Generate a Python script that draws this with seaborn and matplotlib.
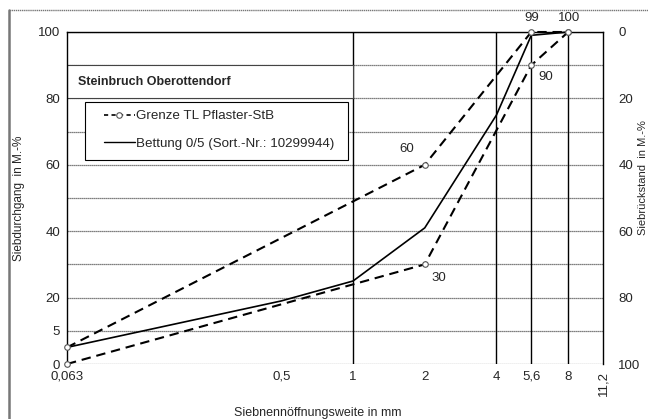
import matplotlib
matplotlib.use('Agg')
import matplotlib.pyplot as plt
from matplotlib.lines import Line2D
from matplotlib.patches import Rectangle
import seaborn as sns
import pandas as pd

# sieve sizes in mm and passing in M.-%
sieves = [0.063, 0.5, 1, 2, 4, 5.6, 8]
bettung = [5, 19, 25, 41, 75, 99, 100]
upper_sieves = [0.063, 2, 5.6, 8]
upper_limit = [5, 60, 100, 100]
lower_sieves = [0.063, 2, 5.6, 8]
lower_limit = [0, 30, 90, 100]

x_ticks = [0.063, 0.5, 1, 2, 4, 5.6, 8, 11.2]
x_labels = ['0,063', '0,5', '1', '2', '4', '5,6', '8', '11,2']
y_ticks = [0, 10, 20, 40, 60, 80, 100]
y_labels = ['0', '5', '20', '40', '60', '80', '100']
y2_ticks = [0, 20, 40, 60, 80, 100]
vlines = [1, 4, 5.6, 8]

df_bet = pd.DataFrame({'mm': sieves, 'pct': bettung})
df_up = pd.DataFrame({'mm': upper_sieves, 'pct': upper_limit})
df_lo = pd.DataFrame({'mm': lower_sieves, 'pct': lower_limit})


def create_sieve_curve():
	sns.set_style('white')
	plt.rcParams['font.family'] = ['Liberation Sans', 'DejaVu Sans']
	fig = plt.figure(figsize=(6.48, 4.19), dpi=100)
	ax = fig.add_axes([67 / 648, 1 - 364 / 419, 536 / 648, 332 / 419])
	ax.set_xscale('log')

	# horizontal grid every 10 %
	for y in range(0, 101, 10):
		ax.axhline(y, color='#555555', lw=0.9, ls=(0, (1, 0.6)), zorder=1)
	for x in vlines:
		ax.axvline(x, color='black', lw=1.0, zorder=1)

	dash = (0, (4.5, 2.8))
	for d in (df_up, df_lo):
		sns.lineplot(data=d, x='mm', y='pct', ax=ax, color='black', lw=1.5,
			linestyle=dash, marker='o', markersize=4, markerfacecolor='white',
			markeredgecolor='#555555', markeredgewidth=0.8, zorder=4, clip_on=False)
	sns.lineplot(data=df_bet, x='mm', y='pct', ax=ax, color='black', lw=1.2, zorder=3, clip_on=False)

	ax.set_xlim(0.063, 11.2)
	ax.set_ylim(0, 100)
	ax.set_xticks(x_ticks)
	ax.set_xticklabels(x_labels, fontsize=9.5)
	ax.xaxis.set_minor_locator(matplotlib.ticker.NullLocator())
	ax.get_xticklabels()[-1].set_rotation(90)
	ax.set_yticks(y_ticks)
	ax.set_yticklabels(y_labels, fontsize=9.5)
	ax.tick_params(length=0, pad=5)
	ax.set_xlabel('')
	ax.set_ylabel('Siebdurchgang  in M.-%', fontsize=8.5, labelpad=9)

	for side in ['left', 'right', 'top']:
		ax.spines[side].set_color('black')
		ax.spines[side].set_linewidth(1.0)
	ax.spines['bottom'].set_visible(False)

	ax2 = ax.twinx()
	ax2.set_ylim(100, 0)
	ax2.set_yticks(y2_ticks)
	ax2.set_yticklabels([str(v) for v in y2_ticks], fontsize=9.5)
	ax2.tick_params(length=0, pad=11)
	for s in ax2.spines.values():
		s.set_visible(False)

	# value labels on limit curves
	ax.annotate(str(upper_limit[1]), (upper_sieves[1], upper_limit[1]), xytext=(-18, 16),
		textcoords='offset pixels', ha='center', va='center', fontsize=9.5)
	ax.annotate(str(lower_limit[1]), (lower_sieves[1], lower_limit[1]), xytext=(14, -14),
		textcoords='offset pixels', ha='center', va='center', fontsize=9.5)
	ax.annotate(str(lower_limit[2]), (lower_sieves[2], lower_limit[2]), xytext=(14, -12),
		textcoords='offset pixels', ha='center', va='center', fontsize=9.5)
	ax.annotate(str(bettung[5]), (sieves[5], 100), xytext=(0, 14),
		textcoords='offset pixels', ha='center', va='center', fontsize=9.5)
	ax.annotate(str(bettung[6]), (sieves[6], 100), xytext=(1, 14),
		textcoords='offset pixels', ha='center', va='center', fontsize=9.5, annotation_clip=False)

	# title box
	ax.add_patch(Rectangle((0.063, 80), 1 - 0.063, 10, facecolor='white',
		edgecolor='#444444', lw=0.8, zorder=2))
	ax.text(0.02, 85, 'Steinbruch Oberottendorf', transform=ax.get_yaxis_transform(),
		fontsize=9, fontweight='bold', va='center', ha='left', zorder=3)

	# legend frame drawn by hand so the padding matches the original
	ax.add_patch(Rectangle((18 / 536, (364 - 160) / 332), (348 - 85) / 536, 58 / 332,
		transform=ax.transAxes, facecolor='white', edgecolor='black', lw=0.8, zorder=5))
	handles = [
		Line2D([], [], color='black', lw=1.2, linestyle=(0, (2.5, 2)), marker='o', markersize=4,
			markerfacecolor='white', markeredgecolor='#555555', markeredgewidth=0.8),
		Line2D([], [], color='black', lw=1.0),
	]
	leg = ax.legend(handles, ['Grenze TL Pflaster-StB', 'Bettung 0/5 (Sort.-Nr.: 10299944)'],
		loc='center left', bbox_to_anchor=(37 / 536, (364 - 130) / 332), borderaxespad=0,
		borderpad=0, fontsize=9.6, frameon=False, handlelength=2.3,
		handletextpad=0.1, labelspacing=1.15)
	leg.set_zorder(6)

	fig.text(318 / 648, 1 - 413 / 419, 'Siebnennöffnungsweite in mm', ha='center', va='center', fontsize=9)
	fig.text(642.5 / 648, 1 - 178 / 419, 'Siebrückstand  in M.-%', rotation=90, ha='center', va='center', fontsize=8)

	# outer frame of the figure
	fig.add_artist(Line2D([9 / 648, 9 / 648], [0, 1 - 10 / 419], color='#777777', lw=1.8))
	fig.add_artist(Line2D([9 / 648, 1], [1 - 10 / 419, 1 - 10 / 419], color='#777777', lw=1.0, ls=(0, (1, 0.5))))

	plt.savefig('out.png', dpi=100)


if __name__ == "__main__":
	create_sieve_curve()
